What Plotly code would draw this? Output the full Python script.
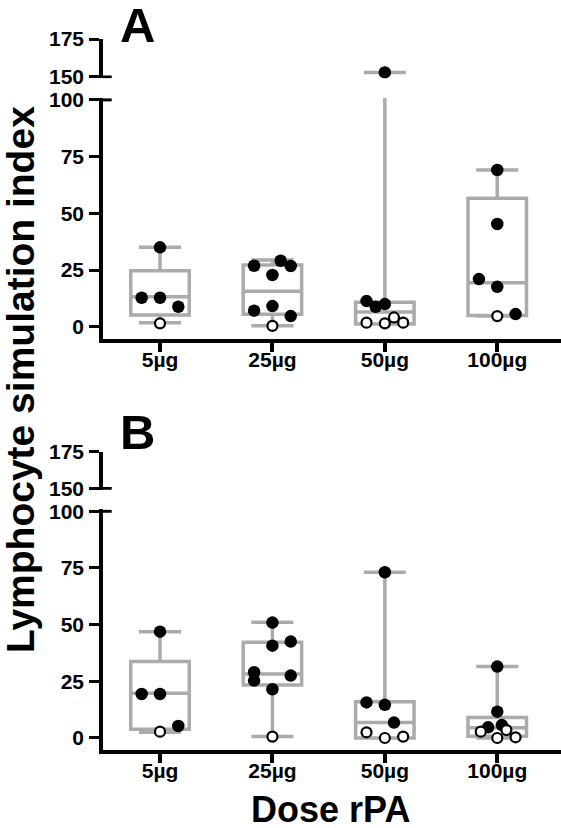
import plotly.graph_objects as go

categories = ["5µg", "25µg", "50µg", "100µg"]
cat_pos = [0, 1, 2, 3]

# ---- Panel A: individual responses ----
a_group = [0, 0, 0, 0, 0,
           1, 1, 1, 1, 1, 1, 1, 1,
           2, 2, 2, 2, 2, 2, 2, 2,
           3, 3, 3, 3, 3, 3]
a_value = [35.0, 12.8, 12.8, 8.8, 1.5,
           26.9, 29.1, 26.8, 22.8, 7.1, 9.1, 4.7, 0.4,
           153.0, 11.3, 8.8, 10.0, 1.8, 1.5, 4.1, 1.8,
           69.1, 45.3, 21.0, 17.6, 4.7, 5.6]
a_open = [0, 0, 0, 0, 1,
          0, 0, 0, 0, 0, 0, 0, 1,
          0, 0, 0, 0, 1, 1, 1, 1,
          0, 0, 0, 0, 1, 0]
a_swarm = [0, -1, 0, 1, 0,
           -1, 0.45, 1, 0, -1, 0, 1, 0,
           0, -1, -0.5, 0, -1, 0, 0.5, 1,
           0, 0, -1, 0, 0, 1]

# Panel A: box statistics (min / Q1 / median / Q3 / max)
a_min = [1.8, 0.4, 1.2, 4.7]
a_q1 = [5.2, 5.5, 1.2, 5.0]
a_med = [13.2, 15.7, 6.5, 19.4]
a_q3 = [24.7, 27.2, 10.8, 56.6]
a_max = [35.0, 29.4, 153.0, 69.1]

# ---- Panel B: individual responses ----
b_group = [0, 0, 0, 0, 0,
           1, 1, 1, 1, 1, 1, 1, 1,
           2, 2, 2, 2, 2, 2, 2,
           3, 3, 3, 3, 3, 3, 3, 3]
b_value = [46.9, 19.4, 19.4, 5.3, 2.8,
           50.9, 42.5, 40.7, 29.0, 25.3, 27.5, 21.5, 0.6,
           73.1, 15.7, 14.6, 6.8, 2.5, 0.0, 0.6,
           31.5, 11.6, 4.7, 5.7, 2.8, 3.5, 0.0, 0.3]
b_open = [0, 0, 0, 0, 1,
          0, 0, 0, 0, 0, 0, 0, 1,
          0, 0, 0, 0, 1, 1, 1,
          0, 0, 0, 0, 1, 1, 1, 1]
b_swarm = [0, -1, 0, 1, 0,
           0, 1, 0, -1, -1, 1, 0, 0,
           0, -1, 0, 0.5, -1, 0, 1,
           0, 0, -0.5, 0.25, -0.9, 0.5, 0, 1]

b_min = [2.5, 0.6, 0.0, 0.0]
b_q1 = [3.8, 23.4, 0.0, 0.8]
b_med = [19.7, 28.2, 6.8, 4.5]
b_q3 = [33.7, 42.2, 16.0, 9.0]
b_max = [46.9, 51.0, 73.1, 31.5]

# ---- styling ----
W, H = 561, 828
FONT = "Liberation Sans, Arial, Helvetica, sans-serif"
BOX_COLOR = "#ababab"
SWARM_STEP = 0.163
ML = 103

fig = go.Figure()


def add_panel(xa, ya_low, ya_up, grp, val, opn, swarm, mn, q1, med, q3, mx):
    for ya in (ya_low, ya_up):
        fig.add_trace(go.Box(
            x=cat_pos, q1=q1, median=med, q3=q3, lowerfence=mn, upperfence=mx,
            width=0.52, whiskerwidth=0.72, boxpoints=False,
            line=dict(color=BOX_COLOR, width=3.5), fillcolor="rgba(0,0,0,0)",
            xaxis=xa, yaxis=ya, showlegend=False, hoverinfo="skip"))
        for is_open in (0, 1):
            xs = [cat_pos[g] + s * SWARM_STEP for g, s, o in zip(grp, swarm, opn) if o == is_open]
            ys = [v for v, o in zip(val, opn) if o == is_open]
            fig.add_trace(go.Scatter(
                x=xs, y=ys, mode="markers", xaxis=xa, yaxis=ya, showlegend=False,
                marker=dict(size=10 if is_open else 12.5,
                            color="white" if is_open else "black",
                            line=dict(color="black", width=2.2 if is_open else 0))))


add_panel("x", "y", "y2", a_group, a_value, a_open, a_swarm, a_min, a_q1, a_med, a_q3, a_max)
add_panel("x2", "y3", "y4", b_group, b_value, b_open, b_swarm, b_min, b_q1, b_med, b_q3, b_max)

tickfont_y = dict(family=FONT, size=21, color="black", weight="bold")
tickfont_x = dict(family=FONT, size=21, color="black", weight="bold")


def yax(domain, rng, tickvals, anchor):
    return dict(domain=domain, range=rng, tickvals=tickvals, ticks="outside", ticklen=10,
                tickwidth=3, tickcolor="black", showline=True, linewidth=3.5, linecolor="black",
                showgrid=False, zeroline=False, tickfont=tickfont_y, anchor=anchor,
                automargin=False, ticklabelstandoff=1)


def xax(anchor):
    return dict(domain=[0, 1], range=[-0.507, 3.567], tickvals=cat_pos, ticktext=categories,
                ticks="outside", ticklen=9, tickwidth=3.5, tickcolor="black", showline=True,
                linewidth=4, linecolor="black", showgrid=False, zeroline=False,
                tickfont=tickfont_x, anchor=anchor, automargin=False, ticklabelstandoff=-10)


def pfrac(px):
    return 1 - px / H


fig.update_layout(
    width=W, height=H, template="none",
    margin=dict(l=ML, r=0, t=0, b=0),
    paper_bgcolor="white", plot_bgcolor="rgba(0,0,0,0)",
    xaxis=xax("y"),
    xaxis2=xax("y3"),
    yaxis=yax([pfrac(339), pfrac(98.1)], [-5.4, 100.8], [0, 25, 50, 75, 100], "x"),
    yaxis2=yax([pfrac(78.2), pfrac(39)], [149.2, 175], [150, 175], "x"),
    yaxis3=yax([pfrac(750), pfrac(509.4)], [-5.3, 100.8], [0, 25, 50, 75, 100], "x2"),
    yaxis4=yax([pfrac(489.7), pfrac(451.5)], [149.2, 175], [150, 175], "x2"),
)

# axis-break marks crossing into the plot
for yref, yv in (("y2", 150), ("y", 100), ("y4", 150), ("y3", 100)):
    fig.add_shape(type="line", xref="x domain", yref=yref, x0=0, x1=0.019, y0=yv, y1=yv,
                  line=dict(color="black", width=3))

pw = W - ML
fig.add_annotation(text="A", x=(118 - ML) / pw, y=pfrac(25), xref="paper", yref="paper",
                   xanchor="left", yanchor="middle", showarrow=False,
                   font=dict(family=FONT, size=49, color="black", weight="bold"))
fig.add_annotation(text="B", x=(118 - ML) / pw, y=pfrac(432), xref="paper", yref="paper",
                   xanchor="left", yanchor="middle", showarrow=False,
                   font=dict(family=FONT, size=49, color="black", weight="bold"))
fig.add_annotation(text="Lymphocyte simulation index", textangle=-90,
                   x=(20 - ML) / pw, y=pfrac(380), xref="paper", yref="paper",
                   xanchor="center", yanchor="middle", showarrow=False,
                   font=dict(family=FONT, size=39, color="black", weight="bold"))
fig.add_annotation(text="Dose rPA", x=(330 - ML) / pw, y=pfrac(809), xref="paper", yref="paper",
                   xanchor="center", yanchor="middle", showarrow=False,
                   font=dict(family=FONT, size=36, color="black", weight="bold"))

fig.write_html("out.html", post_script="document.body.style.margin='0px';",
               config={"displayModeBar": False})
